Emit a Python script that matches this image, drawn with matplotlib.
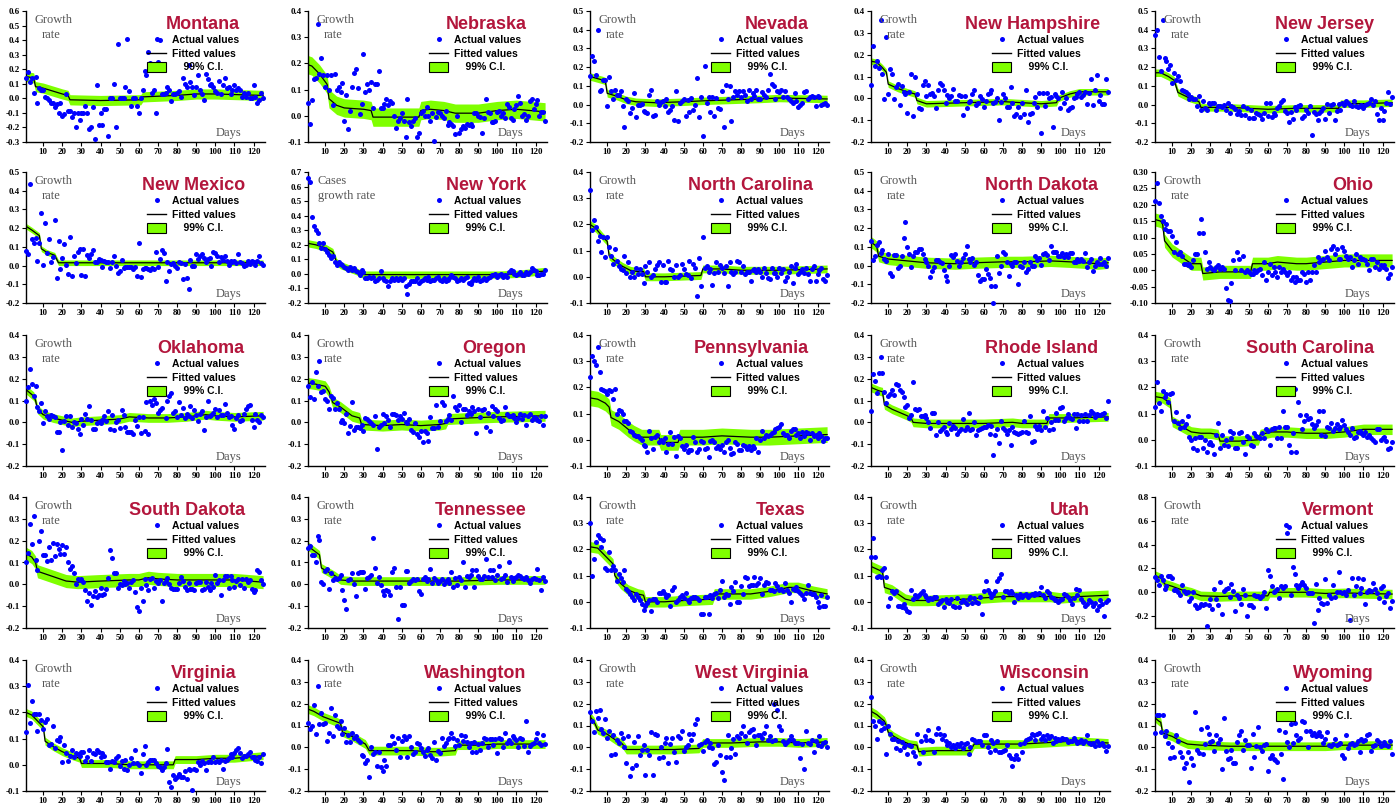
import numpy as np
import matplotlib
matplotlib.use("Agg")
import matplotlib.pyplot as plt
from matplotlib.lines import Line2D
from matplotlib.patches import Patch
from matplotlib.ticker import FormatStrFormatter

# ---- data (growth rates in percent, day 1..125) ----
states = ["Montana", "Nebraska", "Nevada", "New Hampshire", "New Jersey",
          "New Mexico", "New York", "North Carolina", "North Dakota", "Ohio",
          "Oklahoma", "Oregon", "Pennsylvania", "Rhode Island", "South Carolina",
          "South Dakota", "Tennessee", "Texas", "Utah", "Vermont",
          "Virginia", "Washington", "West Virginia", "Wisconsin", "Wyoming"]

y_limits = [(-0.3, 0.6), (-0.1, 0.4), (-0.2, 0.5), (-0.2, 0.4), (-0.2, 0.5),
            (-0.2, 0.5), (-0.2, 0.7), (-0.1, 0.4), (-0.2, 0.5), (-0.1, 0.3),
            (-0.2, 0.4), (-0.2, 0.4), (-0.1, 0.4), (-0.2, 0.4), (-0.1, 0.4),
            (-0.2, 0.4), (-0.2, 0.4), (-0.1, 0.4), (-0.1, 0.4), (-0.3, 0.8),
            (-0.1, 0.4), (-0.2, 0.4), (-0.2, 0.4), (-0.2, 0.4), (-0.2, 0.4)]
y_steps = [0.1] * 9 + [0.05] + [0.1] * 9 + [0.2] + [0.1] * 5

actual_pct = [
    # Montana
    [14, 18, 11, 14, 4, 15, -3, 7, 6, 6, 1, 0, -1, -3, -3, -6, -4, -10, -3, -12, -11, 3, -9, -9, -13, -10, -20, -10, -15, -10, -10, -5, -10, -21, -20, -6, -28, 9, -18, -10, -18, -7, -7, -26, 0, 0, 10, -20, 37, 0, 0, 0, 8, 41, 5, -5, 0, 0, -5, -10, 0, 6, 19, 16, 32, 24, 4, 6, -10, 25, 40, 3, 3, 4, 8, 6, -2, 3, 3, 4, 5, 1, 14, 10, 8, 23, 11, 8, 2, 8, 16, 6, 3, -1, 17, 13, 9, 10, 8, 5, 4, 12, 3, 9, 14, 7, 8, 3, 6, 9, 6, 7, 6, 1, 4, 1, 4, 0, 0, 9, 1, -3, -1, 4, 0],
    # Nebraska
    [5, -3, 6, 14, 14.5, 35, 16, 22, 15.5, 11, 15.5, 10, 15.5, 4, 16, 10, 11, 9, 12.5, -2, 8, -5, 2, 11, 16.5, 18, 10.5, 0.5, 4.5, 23.5, 9, 12, 10, 13, 3, 12, 12, 17, 3, 3, 4.5, 6.5, 4, 5.5, 5, 0, -4.5, -2, -1, 1, -2, -8, 6.5, -2.5, -4, -2, -1, -8, -6.5, 1, 2, 0, 3.5, 0, -2, 1, -9.5, -0.5, 1.5, 1, 0, -1, 2, -3.5, -2.5, -3, -4, -7, 0, -6.5, -5, -4, -4.5, -3, -3.5, -3, -4, 1, 1, 0, -0.5, -6.5, -1, 6.5, 1.5, 1, -2.5, -2.5, -2, 1.5, 2, 0, 1, -1, 4.5, 3.5, -1, -1.5, 2.5, 4, 7.5, 5, 0, 0.5, -1.5, 0, 5.5, 6.5, 2.5, 4.5, 6, 0, 1.5, 1.5, -2],
    # Nevada
    [15, 26, 23.5, 16, 40, 7, 8, 13, 13, -1, 14.5, 7, 3, 8, 5, 5, 7, -1, -12, 3, 2, -4.5, -2, 6, -6.5, 0, 0, 0.5, -3.5, -4, -4.5, 5, 8, -6, -5.5, 2, 0, 1.5, 2, -1, 3, -4, -3, -0.5, -8, 7, -9, 1, 2, 3, -6, 2.5, -4, 3.5, -3, 0, 14, -6.5, 4, -17, 20.5, 1, 4, -4, 4, -6, 3.5, -2, -2.5, 7.5, -12, 10.5, 3, 10, -9, 4, 7, 5, 7.5, 4, 7, 5, 2, 8, 3, 6, 4.5, 8, 3, 3, 6.5, 5, 4, 8, 16.5, 11, 10, 3, 7, 6.5, 8, 4, 7.5, 4, 3, 2, 1, 6, 2, -1.5, 0, 1, 6.5, 7, 3, 4, 4.5, 4, -0.5, 4.5, 4, 0, 0.5, 1, 0],
    # New Hampshire
    [6, 24, 15, 17, 14, 36, 11, -0.5, 28, 2, 13.5, 11, -0.5, 5, 6.5, -3, 5.5, 3, 2, -6.5, 3, 11, -8, 10, 2, -4.5, -5, 6, 8, 1, 6, 2, 2.5, 1, -4.5, 4, 7, 6, 4, -2, 1.5, 0, 1, 4.5, -1, -1, 1.5, 1, -7.5, 1, -4.5, -1.5, -1, 2, 4, -3, -2, 1, -0.5, -4, -1, 2, 2.5, 4, -2, -1.5, 0, -10, -1.5, 2, 0, -4, -4, 5, -2, -8, -7, -4, -8.5, -2, -7, 4, -11, -7, -6.5, -2, 0.5, -4, 2.5, -16, 2.5, -3.5, 2.5, 0, 0.5, -13, 2, 1, 0, -4.5, 3, -2, 0, -5.5, -4.5, -4, 0, 0.5, 2, 3, 0.5, 1.5, 3, -2.5, 2.5, 9, -3, 4, 10.5, -1, 1.5, -2.5, -2.5, 9, 3],
    # New Jersey
    [37, 40, 25.5, 18, 45, 25, 23.5, 19, 21, 11.5, 17, 13, 15.5, 12.5, 8, 7.5, 6.5, 5.5, 3, 4, 3, 3, -1, 4.5, -3, 2, -2, -3, 1, 0.5, 1, 1, -3, -1, -0.5, -1.5, 0, -3, 1, -4.5, -1, -1.5, -2.5, -5, -3.5, -5.5, -1, -5.5, -2, -7, -3, -7, -7, -4.5, -5, -5.5, -7.5, -4.5, 1, -6, 1, -6.5, -4.5, -5.5, -2, -0.5, 1.5, 2.5, -3.5, -4.5, -9.5, -4, -7.5, -1.5, -3, -1, 0, -7, -6, -3, -4.5, -1, -16.5, -4, -5, -8, -4.5, -3.5, -2, -7.5, 0.5, -4.5, 0, 0.5, -8, -3.5, 0.5, -3, 1, 0, 2, 1, 0, -1, 2, -0.5, -1.5, -1, 0, -2, 0, 0.5, 1, 3, 0, 2, -5, -8.5, -2, -8.5, -3.5, 1, 6.5, 0.5, 4],
    # New Mexico
    [8, 6, 43.5, 14, 12, 14.5, 2.5, 12, 28, 0.5, 23, 6.5, 14, 2, 4.5, 24.5, -6.5, 13, -2, 4, 11.5, 0.5, -4.5, 15.5, -5.5, 5, 1.5, 7, 9, -5, 9, -5.5, 5.5, 4, 6, 8.5, 2, 2, 3.5, 3, -0.5, 2.5, 2, 2, -1.5, 2, 5, 0, -4, -3, 3, -1.5, -1, -1, -0.5, -1, -2, -1, -5.5, 12, -6, -2, -1.5, -1.5, -2, -2.5, -1.5, -2, 7.5, -1, 3.5, 8.5, 6.5, -8.5, 2, -3, 1, 1.5, 0, -1.5, 2, 1.5, -7, 1, -6.5, -12.5, 3, 0, 0, 6, 3.5, 5, 6, 4, 2, 3.5, 4, 0, 7, 6.5, 5, 2, 4.5, 3, 5, 2.5, 0.5, 2.5, 2, 2.5, 1.5, 6, 2, 1.5, 0, 0.5, 2.5, 1, 2.5, 2, 0.5, 2.5, 5, 1.5, 0.5],
    # New York
    [66, 63, 39, 33, 30, 28, 21, 18, 21, 17, 15, 13, 11, 12, 8, 6, 8, 7, 6, 5, 4, 3, 5, 3, 4, 2, 1, -1, 3, 1, -3, -3, -2, -3, -2, -5, -4, -3, 2, -3, -4, -5, -8, -5, -3, -4, -3, -4, -3, -4, -3, -8, -14, -7, -5, -5, -5, -3, -6, -5, -4, -3, -4, -2, -5, -4, -4, -3, -2, -4, -5, -3, -5, -4, -3, -1, -2, -3, -5, -4, -3, -4, -3, -2, -6, -7, -5, -3, -4, -2, -5, -4, -3, -4, -3, -2, -1, -1, 0, -2, -1, 0, -2, -1, -2, 1, 3, 2, 0, -1, 0, 1, -1, -1, 1, 0, 1, 4, 3, 2, -1, -1, 0, 0, 3],
    # North Carolina
    [33, 18, 21.5, 19, 13.5, 15.5, 9.5, 15, 7.5, 15, 11.5, 8, 5, 10.5, 6, 4, 3, 2.5, 8, 1.5, 5.5, 0, 2, 0, 3.5, 1, 3, 1, -2.5, 4, 2, 5.5, 0, 0.5, 3, 4.5, 5.5, -2, 4.5, -2, -2, 6, 3, 2.5, 0, 4.5, 0, 0.5, 5, 3, 1, 0.5, 6, -0.5, 5, 3.5, -7.5, 7, -3.5, 15, 3.5, 4, 2, 3, -3, 1.5, 5.5, 2, 4.5, 3.5, 1.5, 4, -3.5, 5.5, 2, 1, 2, 6, 5.5, 2, 4, 1, 2, 2, -1.5, 2.5, 3, 2, 3, 2, 0, 3.5, 1.5, -0.5, -1, 3.5, 1.5, 1.5, 0, 3.5, 1.5, 3, -1.5, 0, 2, 4, -2.5, 3.5, 5, 1, 2, 3, 1.5, 3.5, 1, -1.5, 3, 4, -1.5, 1, 2.5, 3.5, -1, -1.5, 0.5],
    # North Dakota
    [13, 3, 5, 11, 12.5, 6.5, 8.5, 3.5, 2.5, 6, -4, -5.5, 5.5, 5.5, -1.5, 0, 5, 14.5, 23.5, 10, 6, -0.5, 5, 7.5, 7.5, 9, 9, 6, 3.5, 2, 0, -6, -3, -1, 3, 3, 2, 1.5, -2.5, -5.5, -8, 0, 5.5, 4.5, 6, 2.5, 0, 2, 4, 6, 10.5, 3.5, 2, 4, 0.5, 2, -5, -8, -7, -7, -2, -4.5, -6.5, -11, -20, -11, 5, -4, 0, 7.5, 6, 2, -5.5, 1, 0, 2, 2, -10, 0, -1, 2, -3.5, -2, 2, 0, 0, 5, 3, 4, 0.5, 6, 6.5, 5.5, 3, 10.5, 7, 7.5, 7.5, 5, 5, 6.5, 4.5, 6, 4.5, 6.5, 6.5, 2, 2, 3.5, 2.5, 3.5, 2.5, 6.5, -1, 2, 3.5, -3, 0, 2, 1, 4, 1, 2, 0, 4],
    # Ohio
    [21, 26.5, 20.5, 16.5, 15, 12.5, 14, 12, 12, 10.5, 5.5, 8.5, 5, 5.5, 4.5, 2, 2, 1.5, 2, 1, 3, 5, 5, 11.5, 15.5, 11.5, 5.5, 0.5, 2.5, 1, 0.5, 0, 1, 1.5, 0.5, 1, 0.5, -5.5, -9, -9.5, -4, 3, 0, 5.5, 3.5, 0, 4.5, -0.5, 0, -0.5, -1, -1, 0, -0.5, 0, 0.5, -1.5, 2.5, -3, -0.5, 2, -1.5, 1, -0.5, -2, 1, -0.5, 0.5, -0.5, -1.5, -0.5, -3, -2, -3.5, -2, -3, -3, -0.5, -1, -3.5, -0.5, -3, -0.5, 1.5, -0.5, 4, 2.5, 3, 3.5, 6, 4, 3, 6.5, 7.5, 5, 6.5, 3.5, 3.5, 7, 6, 4.5, 3.5, 4, 1, 3, 5, 2, 4, 3.5, 3.5, 3, 2, 0, 3.5, 3.5, 1, 2.5, 0.5, 1.5, 1, 1.5, 0.5, -2.5, -1, 1],
    # Oklahoma
    [10, 16, 24.5, 17.5, 12, 16.5, 7, 5, 9, -0.5, 5, 3, 1.5, 3.5, 3, 2.5, -4.5, -4.5, 0, -12.5, 0.5, 3, -1, 3, -2, 0, -0.5, -3, -5.5, 1.5, -1, 4, 1.5, 7.5, 1, -3, -3, -0.5, 0, -0.5, 1, 3, 0.5, 5, -3, 3.5, -3.5, 0, 1, -2.5, 5.5, 3.5, -2, -4.5, -4.5, -4.5, -5.5, 1, -1.5, 2.5, -5, 2.5, -4, 9.5, -5.5, 10, 8, 10.5, 9, 4.5, 5.5, 6.5, 15.5, 2, 10, 12, 13.5, 4.5, 5, 2.5, 9.5, 3.5, 6.5, 2, 4, 3, 7.5, 2, 5.5, 3.5, 0.5, 4, 5, -3.5, 2.5, 10, 3, 3.5, 4.5, 6, 2.5, 5.5, 3.5, 3.5, 8.5, 4.5, 2.5, 3, -1, -3, 2, 3.5, 0.5, 1, 4, 6, 7.5, 8, 1, -2, 4, 1, 0, 3.5, 2.5],
    # Oregon
    [16.5, 11.5, 18.5, 10.5, 23, 16.5, 28, 14, 14.5, 10.5, 10, 6, 12, 11, 6, 9, 6, 0, 1, -0.5, 4, -5, -1.5, 9.5, -3.5, -2, -2, -2.5, -1, -4, 2, 1.5, 0.5, -0.5, -1, 3, -12, -2, -1, 4, -0.5, 3, 1, -2, 4, 4, 3.5, 1, 3, 1.5, 4.5, 0, -0.5, 1.5, -3.5, -4.5, -0.5, -5.5, -6.5, -4, -9, -4, -5, -8.5, 2.5, -2.5, -2.5, 8, -2, 0.5, 9.5, 8, 0.5, 1.5, 3.5, 1, 12, 7, 5.5, 8, 0, 6, 6, 3.5, 5, 4, 7, 5, -5, 6, 2.5, 5.5, 6, -2, 4.5, -4, 7.5, 3, 6, 5, 2, 0.5, 1, 7, 4, 3, 3, 3.5, 2, 0, 2, 4, 1.5, 3.5, -1, 3, 4, 1, 2.5, 2, 1, 0.5, 3, -1, 3],
    # Pennsylvania
    [24, 32, 30, 28.5, 35.5, 26, 19.5, 19, 18.5, 17.5, 19, 18.5, 15.5, 19.5, 10, 11.5, 11, 10, 7, 7, 6.5, 3.5, 3, 2, 1.5, 1.5, 0.5, 0, -2, -2.5, -4.5, 3.5, 0.5, -3.5, 1, 2, -1, 0, -1, 0.5, -4.5, -1.5, 3, -1.5, 1, -6, 1.5, 0.5, -2.5, -3.5, -2, -4.5, -4, -4, 1, -1, -4.5, -3.5, -0.5, -1, -3.5, -3, -6.5, -0.5, 0, -1, -3, -2.5, -3.5, -2, -4.5, -1, 0, -3, -5.5, -5, -1, -1.5, -4, -4, -2, -2.5, -3.5, -2.5, -4, -2.5, -3, 0.5, -4.5, 0, 3.5, 0.5, 2, 1.5, 2, 2.5, 3, 4, 4.5, 5, 6, 2.5, 2, 2, 0.5, 3.5, 4, 4, 2, 2.5, 0.5, 3, 1.5, 3, 2.5, 0, 2.5, 1.5, 2, 0.5, 2.5, 1.5, -0.5, 0.5, 0.5],
    # Rhode Island
    [5, 22, 19, 13.5, 22.5, 30, 22.5, 14, 9, 12, 13, 15, 12.5, 17.5, 17, 15, 14, 11.5, 7, 8, 2, 3.5, 18.5, 6, 5.5, 6, 3, 3, 3.5, 2, 0, -2.5, 4.5, 4.5, -6, 0, -4, -3, -2, -4.5, -5.5, -0.5, -3, -1.5, -2.5, -5.5, -4, -3, 1.5, -3.5, -2, 4.5, -3.5, -3, 0, -6, -3.5, -3, -2.5, -2, -2, -1, -5.5, -1.5, -15, -6, -3, -9.5, 0.5, -2.5, -3.5, -5.5, -3.5, -10.5, -2, -4.5, -5, -5.5, -5, -4.5, 0.5, -4.5, -5, 3, -9, -8.5, -1.5, -3, -1.5, -3.5, 5, -2, 2, -3.5, 0, -3, 1, 4.5, 1, 6.5, 7, 0.5, 2, 4, 2, 1.5, 4, -2.5, 4, 0.5, 3.5, 0.5, 4, 0.5, 3.5, 5, 4.5, 2.5, 4, 3.5, 3.5, 4, 4.5, 2, 10],
    # South Carolina
    [12.5, 22, 14, 11, 18.5, 16.5, 17.5, 14.5, 17.5, 18, 7, 10.5, 6.5, 4.5, 7, 5, 6, 9, 1, 0, -3, 0.5, -4, 1, 1, -3, 0, -4.5, -1.5, -1, -2, -5.5, 2, 6.5, -3, 2, -2, 0, -2.5, 3.5, 0.5, 2.5, -3, -3, 2.5, 3, -1, -5.5, 1.5, 0.5, -2, -2.5, 2.5, 1.5, 1, 0.5, 2.5, 0.5, 4, 3.5, -2, 4, 4.5, 4.5, 0.5, 5, 0.5, 11, 5, 5, -2, -4.5, 2.5, 19.5, -4.5, 14.5, 9.5, 4, 7, 9.5, 8, 8.5, 6, 4.5, 5.5, 7, 11, 2, 11, 1.5, 5, 4.5, 6.5, 3.5, 4.5, 6, 4, 5, 7.5, 5.5, 4, 3, 2, 4.5, 0.5, 1, 3, 3.5, 2.5, 2, 3, 1, 2, 0.5, 0, -1, 4, 4, 0, 0.5, 1, -0.5, -3.5, -3, -1],
    # South Dakota
    [10, 14.5, 27.5, 18.5, 31.5, 11, 6.5, 20, 24.5, 13.5, 13.5, 10.5, 17, 11, 19, 13, 18.5, 16, 14, 18, 14, 17, 10, 7, 8.5, 5, 0, 2.5, 2, 2.5, 1, -2.5, -7.5, -4, -9.5, -5.5, -3, -6, -5, -1.5, -5, -4.5, -2, 3, 15.5, 12, 5, 5, -1.5, 0, -0.5, 1.5, 0, 0.5, -1.5, 1, 2, -3.5, -10.5, -12, -1.5, -7.5, 2.5, -0.5, -2.5, 2.5, 3, -1.5, 1.5, 0.5, 2, -7.5, 0.5, 1.5, 3, 0, -1.5, -2, -2, -2, 0.5, 3.5, 1.5, -1, -2.5, 0.5, -2, -2, -2.5, 0.5, 1, 1, -2.5, -2, 1, -1, -2.5, 0.5, -1, 4.5, 0.5, 2, -5, 2, 4, 4, -1.5, 4, 2, -1, 1.5, 2.5, -0.5, 2.5, -1.5, 2.5, 1, 2, -2, -3.5, -2.5, 6.5, 5.5, 2, 0],
    # Tennessee
    [16.5, 17.5, 13.5, 13.5, 10, 22, 20.5, 1, 0, 6, 7, -2, 5, 2, 3, 2.5, 3, 4.5, -2.5, -7, -11.5, 2, 2.5, 5, 0, -5.5, 5, 5.5, 5.5, 5.5, -2, 3, 3.5, 4.5, 21, 7.5, 0.5, 3.5, -0.5, -3, -5, -2.5, -3, -5, 5.5, 7.5, -1, -16, -1, -9.5, -9.5, 6, 6, 0.5, 1.5, 2.5, 2, 2.5, -3, -4.5, 2.5, 3.5, 1.5, 2.5, 7, 0.5, 3, 2, 0.5, 1.5, 2.5, 0, 1.5, 2.5, 0.5, 5.5, -1, 3, -0.5, 3.5, 2, 10, -1, 4, 3.5, 4.5, 6.5, -1, 6.5, 4, 2.5, 2.5, 4, 11.5, 3.5, 6.5, 3.5, 6.5, 2, 4.5, 8.5, 2.5, 3, 4.5, 1, 10, 3.5, 1.5, 3, 3.5, 4.5, 4, 3, 2.5, 3.5, 2, 0.5, 2.5, 3, 2.5, 7, 2, -2.5, 3.5, 1.5],
    # Texas
    [30, 10, 16.5, 23, 25.5, 24.5, 21, 23.5, 13, 12, 19, 12, 13.5, 12, 8, 10.5, 9, 7.5, 12, 5, 4, 3, 2, 0.5, 3, 2, 0.5, -1, -3, -1.5, -0.5, 0.5, -3.5, 1, 1, 0, 3.5, 3.5, 4, 3, 2, 2.5, -1.5, 4.5, 5.5, 0, 0.5, 2, 2.5, 1.5, 3.5, 0.5, 0, 1.5, 2, 2, 1.5, 0.5, -4.5, -4.5, 2, 2, -4.5, 2.5, 1.5, 3, 3.5, 1.5, 4.5, 8, 2, 3, 2.5, -1, 5.5, 4, 7.5, 0, 0, 6, 3, 9.5, 9, 6, 6.5, 6.5, 9.5, 6.5, 7, 9, 3, 6.5, 7.5, 7, 4.5, 4.5, 4, 7, 6, 4.5, 5, 4, 7, 4.5, 3.5, 0, 5, 4.5, 5.5, 4, 3.5, 2.5, 1, 3.5, 6.5, 3.5, 3, 3, 2, 0, -2, 2.5, -1.5, -1.5, 2],
    # Utah
    [17, 24.5, 17, 9.5, 10, 9.5, 12, 13, 9.5, -1.5, 1.5, 4, 3.5, 4, -1.5, -1.5, -2, -1, -2.5, -3.5, -4, 4.5, 1, 2.5, 2, 2.5, 3.5, 4, 2.5, 2, 0.5, 1.5, 1, 2, 2, -1, 0, 0.5, -2, 1, 0, -0.5, 1, -1.5, -2, 1.5, -2, 0, 0.5, 0, -1, 1, 2, -0.5, 1.5, 0, -0.5, 2, -4.5, 4, 8, 4.5, 3.5, 2, 3, 4, 8, 9, 10.5, 2, 4, 4, 3.5, 4, 3.5, 0, 2.5, 1.5, 3, 2, 2.5, 3, 2, 2.5, 3, 2.5, 3.5, 3, 3.5, 5.5, 2.5, 1.5, 4, 3.5, 2, 1.5, 0.5, 0.5, 0, 0.5, 1, 3, 2.5, 2, 0.5, -1, 1.5, 5, 2.5, 4.5, 1, 0, -1.5, -1, 0.5, 0, -1.5, -0.5, -3, -1.5, 0.5, -1, -5.5, 0, 0.5],
    # Vermont
    [13, 10, 6, 14, 10, 3, 5, 14, 14, 12, 2, 2, 0, -2, 6, 1, -1, 0, -7, -5, 0, -11, -13, -12, -10, -11, -10, -28, -11, -6, -14, 3, -6, -11, 9, -18, 1, 3, 4, -4, 7, 1, -16, -2, -5, -10, 3, -2, -20, -11, -11, -12, -2, -3, -3, -5, -3, 0, -13, 19, 14, 5, 0, 1, 3, -5, 5, 4, 5, 50, 55, -2, 21, 15, 6, 4, 6, 9, 6, 4, -1, -1, -1, -26, 7, -15, -5, -9, -10, 11, -9, -2, -5, 6, -4, 0, 17, 0, -1, 0, -2, 2, -23, 12, -2, 5, 12, -1, 4, 11, -10, 0, 2, 1, 8, 3, -1, -5, 4, 5, -8, -3, -1, -13, -7],
    # Virginia
    [12.5, 30.5, 16, 24.5, 19.5, 19.5, 13, 19.5, 17, 13.5, 16.5, 17.5, 7.5, 8, 15, 6.5, 9.5, 9, 10.5, 1, 7.5, 4.5, 1.5, 3.5, 5.5, 3, 4.5, 4, 3.5, 5, 5, 1.5, 3, 5.5, 1.5, 4.5, 4, 5.5, 5, 3, 4.5, 3.5, 1, 1, -1.5, 1.5, 1, 2.5, 3.5, -0.5, 1.5, -1.5, 2, -2, 0, 2.5, 0.5, 5.5, 0.5, 0, -3, 4, 7, 0, 1, 2, 2, 2, 0.5, -0.5, -1, -2, -1, 0.5, 6, -6.5, -8.5, -4, -5.5, -4.5, -3.5, -4.5, -4.5, -2.5, -5.5, -1.5, -2, -9.5, -1.5, -2, 1, 0, 1.5, 0.5, -2, 1, 1.5, 1, 3, 1, 1.5, 1, 2, -1.5, 1.5, 2, 2.5, 4, 3, 4.5, 5.5, 6.5, 4.5, 2.5, 3.5, 3.5, 4, 5, 3, 3, 2, 1.5, 3, 0.5, 4],
    # Washington
    [11, 8.5, 10, 19.5, 6, 28, 10.5, 15.5, 10.5, 11, 3, 6.5, 18, 5, 15, 10, 9, 12, 6, 9, 2.5, 5.5, 2.5, 6.5, 4.5, 5, 3.5, 2.5, -3.5, -4, -7, -6, -13.5, 0, -3, -2, -8.5, -2, -9, -11, -6, -8.5, 1, 1, 5, 2, -1, 4.5, -4.5, 3, 5, 4, -4.5, 5, 0, -3, -2, 2, 1.5, -0.5, -2, -4, -1, -0.5, -3.5, -5, 2.5, -6, -1.5, -2.5, 4.5, 0.5, 2, 4, 4.5, 6.5, 4.5, 0.5, 3.5, 1, 5.5, 3, 5, 2.5, 0, 2, -2, 2.5, -2, 1.5, -1, 2, 4.5, 4, 0, 4, 4, 1, 4, -2.5, 4.5, 4, 0, 6.5, 2, 3.5, 2, 5, 4.5, 3.5, 0, 4.5, 4, 0.5, 12, -2, 0.5, 1.5, 2, 4, 6.5, 2, 1, 5.5, 1.5],
    # West Virginia
    [16, 12, 7, 16.5, 13.5, 17, 8.5, 6.5, 13, 4.5, 7.5, -3.5, 5.5, -3, 3.5, 2, 6.5, 4.5, 0, -7, 5, -13, -9.5, 2.5, -8, 5, -3.5, -1, 1, -12.5, -1, -3.5, 7, -12.5, 6, 5.5, -5, 0, -4.5, 2, 4.5, -7, 1.5, 4.5, -2, -6.5, 5, 4.5, 7.5, -1.5, 0, 1, 6, 3.5, 6, 10.5, 13, 1, 1.5, -1.5, 2.5, 3.5, 0, 2, -0.5, -7.5, -6.5, 1, -3.5, -11.5, -15, -4.5, 5.5, -4.5, -0.5, 4, -3, 5, 4.5, 6.5, 10, 5, 2, 7, 8, 8.5, 5, 1, 5.5, 5.5, 4.5, 6.5, 10, 3.5, 5, 3, 20, 3.5, 17, 10, 8, 3, 1.5, 2.5, 3.5, 5, 3.5, 2, 2, 2, -5, 1.5, -10, 7.5, 2, 1.5, 3.5, -2, 3, 1, 5, 0.5, 2, 2.5, 0],
    # Wisconsin
    [23, 12, 10, 4, 12, 8, 11, 9, -3, 10, 6, 4, 4, -0.5, 3, -1, 2.5, 0, 1, -3, 1, 0.5, -2, -4, 6, -7, 3, -2, 5, 3.5, 8, 3.5, 3, -2, 6, 9, 6, 4, 5.5, 3, 1, 2, 0, 1, -0.5, 1.5, 0.5, 2, -0.5, 1.5, 2, -3, 0, 4, 3.5, 2.5, 3, 3, 1, 5.5, 5.5, 0, -2, 3.5, 2, -1, 3, -2, -2, -1.5, -1, 1, -3.5, -5, -8.5, -5.5, -3.5, -5.5, 1.5, -2, 2, 3.5, 4, 4.5, 6, 5.5, 3.5, 6, 6.5, 4, 5, 3.5, 5.5, 4.5, 5, 2, 4.5, 3, 4, 3.5, 4.5, 4, 4, 2.5, 3, 3, 4.5, 3, 2, 2.5, 3.5, 2, 3, 5.5, 2, 1.5, 2, 0.5, 3, 1, 1.5, 2, 0.5, -1.5, 0.5],
    # Wyoming
    [6.5, 15, 15, 7, 15, 5, 7.5, 2, -5, 0, -4.5, 5.5, 3, -2, -4.5, -9.5, -7, -2, -16, -5, -8, 16, -1, -2.5, 8.5, -3, 1.5, 9.5, 6, 2.5, 3, -1.5, 5.5, 2, 4, -10, 13.5, -1.5, -5.5, -5, -1, -7, -7, 2.5, 5.5, 7.5, -1, 3.5, 1, 1, -9.5, 6, -4.5, 0.5, 9.5, 0, -1.5, 1, 1.5, -11, -5, -3.5, -5.5, -6, -6.5, 8, -3, -14.5, 7, 2.5, 0, 10.5, 2, 11, 5.5, 3.5, 4.5, 12, 11.5, 7.5, 0, 7.5, 5.5, 6.5, 5, 5.5, 7, 5, 2, 4, 7, 1, 0.5, 1.5, 4, 1, 1.5, 2, -3.5, -5, 5.5, -0.5, 1.5, 2, 1, 1.5, 3, -2, 4, 3, 3.5, 5.5, 6, -1.5, 0.5, 1, 3.5, 2.5, 0.5, 1, 2.5, 1, 0.5, 3, -3],
]

# fitted values: [day, percent] knots
fitted_pct = [
    [[1, 15], [5, 14], [6, 8], [10, 7], [15, 5], [20, 3], [23, 2], [24, -1], [40, -1.5], [61, -1], [62, 1], [80, 2], [90, 3], [100, 3], [125, 2]],
    [[1, 19.5], [3, 19], [7, 16], [10, 13], [11, 12], [12, 6.5], [16, 4], [20, 3], [30, 2.5], [34, 2], [35, -0.5], [59, -0.5], [60, 2], [65, 2.5], [72, 2], [78, 1], [90, 1], [100, 2], [110, 2.5], [125, 1.5]],
    [[1, 15], [8, 13], [9, 12.5], [10, 6], [15, 4.5], [20, 2.5], [25, 1.5], [35, 1], [50, 1.5], [60, 2], [75, 2.5], [90, 3], [100, 3.5], [125, 3]],
    [[1, 17], [4, 16.5], [7, 14], [9, 12], [10, 6.5], [15, 4.5], [20, 3], [24, 2], [25, -1], [30, -2.5], [50, -2], [70, -1.5], [80, -2], [90, -2.5], [98, -2], [99, 0], [105, 2], [110, 3], [125, 3]],
    [[1, 17], [4, 17], [8, 15], [11, 13], [13, 6.5], [16, 5], [19, 3.5], [22, 2.5], [24, 1.5], [25, -1.5], [40, -1.5], [50, -2], [60, -2.5], [75, -2], [97, -2], [98, 0.5], [110, 0.5], [125, 1]],
    [[1, 21], [4, 19], [8, 16], [9, 9], [12, 7], [16, 5.5], [18, 1.5], [40, 1.5], [125, 1.5]],
    [[1, 21], [5, 20], [10, 18], [14, 15], [16, 8], [18, 6], [22, 4], [26, 2], [28, 0.5], [30, -0.5], [50, -0.5], [100, -0.5], [110, 0], [125, 2]],
    [[1, 20], [4, 18.5], [8, 15], [10, 13.5], [11, 8], [14, 6], [18, 4], [22, 2.5], [26, 2], [29, 2], [30, 0], [40, 0], [59, 0.5], [60, 3], [70, 3], [80, 2.5], [100, 2.5], [125, 3]],
    [[1, 12.5], [3, 11], [4, 10], [5, 5], [10, 3.5], [20, 2.5], [30, 1.5], [45, 1], [55, 1.5], [70, 2], [80, 2], [95, 2.5], [105, 2], [120, 1], [125, 1.5]],
    [[1, 15.5], [4, 15], [5, 14], [6, 9], [10, 6], [15, 4], [20, 2], [25, 2], [26, -1], [35, -0.5], [51, -0.5], [52, 2], [60, 2], [65, 2.5], [75, 2], [80, 2], [90, 2.5], [100, 3], [125, 3]],
    [[1, 15], [5, 12], [6, 10], [7, 6], [10, 3.5], [15, 2], [20, 1], [25, 0], [30, 0.5], [40, 1], [50, 1.5], [55, 2.5], [65, 2], [75, 2], [85, 2.5], [95, 3.5], [100, 3], [110, 2.5], [125, 3]],
    [[1, 18], [5, 17.5], [10, 16.5], [12, 14], [14, 9], [18, 7], [21, 5], [24, 3], [28, 2], [29, -1], [40, -1.5], [50, -1], [60, -1.5], [70, -1], [73, -0.5], [74, 1.5], [85, 2], [100, 2.5], [125, 3]],
    [[1, 16], [5, 15.5], [9, 14], [11, 12.5], [12, 8.5], [16, 7], [21, 4], [24, 2.5], [28, 1], [37, 1], [38, -1], [47, -1], [48, 1], [60, 1], [70, 1.5], [85, 1], [95, 1], [110, 1.5], [125, 2]],
    [[1, 16], [5, 14.5], [7, 14], [8, 8], [12, 6], [16, 4.5], [20, 3], [22, 2], [23, 0], [30, -0.5], [60, -0.5], [75, 0], [80, -0.5], [93, -0.5], [94, 2], [105, 2], [125, 2.5]],
    [[1, 16.5], [5, 16], [9, 14], [10, 7], [15, 5], [20, 3], [25, 2.5], [30, 2.5], [34, 2], [35, -0.5], [45, -0.5], [55, 0], [56, 2], [62, 3], [70, 3], [80, 2.5], [90, 2.5], [100, 3], [110, 4], [125, 4]],
    [[1, 14], [4, 12.5], [6, 10], [7, 6], [12, 4.5], [17, 3], [22, 1.5], [28, 1], [40, 1.5], [55, 2], [60, 2], [65, 3], [70, 2.5], [80, 2], [95, 2], [110, 2], [125, 1]],
    [[1, 17.5], [4, 15.5], [7, 13.5], [8, 7.5], [11, 6], [15, 4], [18, 2], [25, 1.5], [60, 1.5], [80, 1.5], [100, 2], [125, 2]],
    [[1, 21], [5, 20.5], [9, 17.5], [13, 14.5], [14, 10], [17, 7], [21, 4.5], [26, 3], [29, 2.5], [30, 0], [40, 0], [50, 0.5], [65, 1], [66, 3], [75, 3], [85, 3], [95, 4], [105, 5.5], [110, 5.5], [118, 4], [125, 3]],
    [[1, 13.5], [4, 12.5], [7, 11.5], [8, 5.5], [12, 4.5], [15, 3], [19, 1], [22, 0.5], [30, 0.5], [50, 1], [60, 1.5], [70, 2], [95, 2], [100, 1.5], [110, 2], [125, 2.5]],
    [[1, 14], [4, 12], [5, 10], [6, 7], [10, 5], [15, 2], [20, 0], [25, -3], [35, -3.5], [45, -3], [60, -3], [61, 0], [80, 0], [90, -1], [100, -0.5], [110, -1], [125, -1.5]],
    [[1, 20], [4, 19], [8, 16], [10, 14.5], [11, 9], [15, 7], [20, 5], [25, 3.5], [29, 2.5], [30, 0.5], [45, 0.5], [55, 0], [78, 0], [79, 2], [90, 2], [100, 2.5], [110, 2.5], [125, 3.5]],
    [[1, 17.5], [4, 16.5], [9, 14], [15, 12], [18, 11], [19, 7], [24, 5], [28, 3], [31, 1.5], [33, -1.5], [55, -1.5], [65, -2], [70, -2], [78, -1.5], [79, 1], [90, 1], [100, 1.5], [125, 1.5]],
    [[1, 14], [3, 12], [5, 8], [10, 6], [15, 3], [18, 1.5], [20, -1], [45, -1], [58, -0.5], [60, 2], [75, 2], [90, 2.5], [100, 2.5], [110, 2], [125, 2.5]],
    [[1, 16.5], [4, 15], [8, 12], [9, 10], [10, 7], [13, 5], [17, 3], [21, 1.5], [25, 1], [26, -2], [35, -1.5], [53, -1.5], [55, 1.5], [70, 1.5], [80, 1.5], [90, 2], [100, 2.5], [110, 3], [115, 2.5], [125, 2]],
    [[1, 13.5], [3, 12], [4, 11.5], [5, 6.5], [10, 5], [14, 3], [18, 1.5], [25, 1], [40, 0.5], [90, 0.5], [100, 1], [125, 1]],
]

# half width of the 99% confidence band, percent
ci_half_pct = [3.5, 3.5, 2, 1.5, 2, 1.5, 2.5, 1.5, 3, 2,
               2, 2.5, 3, 2, 2, 3, 2, 2, 2, 4,
               1.5, 2, 2, 2, 2]

# ---- drawing ----
plt.rcParams["axes.unicode_minus"] = False
plt.rcParams["font.family"] = "Liberation Serif"

W, H = 1398, 809
fig = plt.figure(figsize=(W / 100, H / 100), dpi=100)

col_left = [26, 308, 590, 871, 1155]
row_top = [11, 172, 335, 497, 660]
ax_w, ax_h = 239, 131

title_color = "#b3163c"
band_color = "#7fff00"
dot_color = "#0000ff"
label_gray = "#555555"

title_x = {"Montana": 0.895, "New Hampshire": 0.96, "Virginia": 0.88, "Texas": 0.9,
           "North Dakota": 0.95, "Rhode Island": 0.95, "North Carolina": 0.935}

for i, state in enumerate(states):
    r, c = divmod(i, 5)
    ax = fig.add_axes([col_left[c] / W, 1 - (row_top[r] + ax_h) / H, ax_w / W, ax_h / H])

    vals = np.array(actual_pct[i]) / 100.0
    days = np.arange(1, len(vals) + 1)
    knots = np.array(fitted_pct[i], dtype=float)
    fd, fv = knots[:, 0], knots[:, 1] / 100.0
    half = ci_half_pct[i] / 100.0

    ax.fill_between(fd, fv - half, fv + half, color=band_color, lw=0, zorder=1)
    ax.plot(fd, fv, color="black", lw=0.9, zorder=2)
    ax.plot(days, vals, ls="none", marker="o", ms=3.6, color=dot_color, mec="none",
            zorder=3, clip_on=False)

    lo, hi = y_limits[i]
    step = y_steps[i]
    ax.set_xlim(1, 126)
    ax.set_ylim(lo, hi)
    ax.set_xticks(np.arange(10, 121, 10))
    ax.set_yticks(np.arange(np.ceil(lo / step - 1e-9) * step, hi + step / 2, step))
    ax.yaxis.set_major_formatter(FormatStrFormatter("%.2f" if step < 0.1 else "%.1f"))

    for side in ("top", "right"):
        ax.spines[side].set_visible(False)
    for side in ("left", "bottom"):
        ax.spines[side].set_linewidth(1.0)
    ax.tick_params(direction="out", length=3, width=0.8, labelsize=6.5, pad=1.5)
    for lab in ax.get_xticklabels() + ax.get_yticklabels():
        lab.set_fontweight("bold")

    # axis captions
    if state == "New York":
        ax.text(0.04, 0.93, "Cases", transform=ax.transAxes, fontsize=9,
                color=label_gray, va="center", ha="left")
        ax.text(0.04, 0.815, "growth rate", transform=ax.transAxes, fontsize=9,
                color=label_gray, va="center", ha="left")
    else:
        ax.text(0.035, 0.93, "Growth", transform=ax.transAxes, fontsize=9,
                color=label_gray, va="center", ha="left")
        ax.text(0.105, 0.815, "rate", transform=ax.transAxes, fontsize=9,
                color=label_gray, va="center", ha="center")
    ax.text(0.9, 0.07, "Days", transform=ax.transAxes, fontsize=9,
            color=label_gray, va="center", ha="right")

    ax.text(title_x.get(state, 0.915), 0.9, state, transform=ax.transAxes,
            fontsize=13, fontweight="bold", family="Liberation Sans",
            color=title_color, ha="right", va="center")

    handles = [Line2D([], [], ls="none", marker="o", ms=3.6, color=dot_color, mec="none"),
               Line2D([], [], color="black", lw=1.0),
               Patch(facecolor=band_color, edgecolor="black", lw=0.8)]
    labels = ["Actual values", "Fitted values", "    99% C.I."]
    ax.legend(handles, labels, loc="upper left", bbox_to_anchor=(0.505, 0.82),
              frameon=False, borderpad=0, borderaxespad=0, handlelength=1.9,
              handleheight=1.1, handletextpad=0.5, labelspacing=0.3,
              prop={"family": "Liberation Sans", "weight": "bold", "size": 7.5})

fig.savefig("out.png", dpi=100)
